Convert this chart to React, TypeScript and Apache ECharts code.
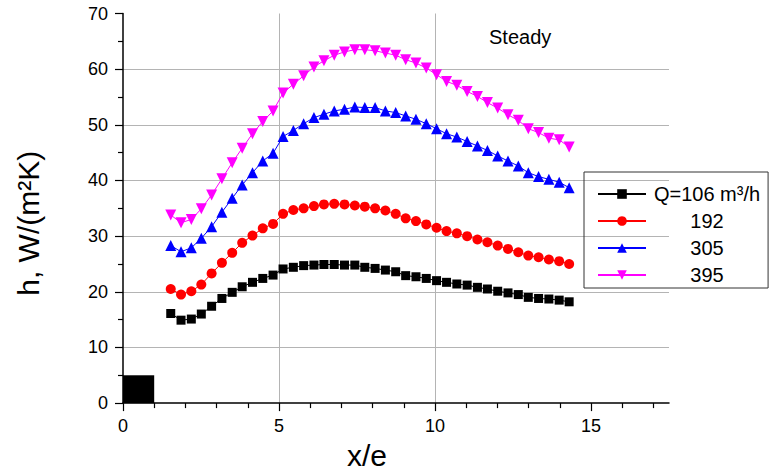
import React, { useEffect, useRef } from "react";
import * as echarts from "echarts";

// x/e positions of the measured points
const xOverE = [
  1.53, 1.86, 2.19, 2.51, 2.84, 3.17, 3.5, 3.82, 4.15, 4.48, 4.81, 5.13, 5.46, 5.79,
  6.12, 6.44, 6.77, 7.1, 7.43, 7.75, 8.08, 8.41, 8.74, 9.06, 9.39, 9.72, 10.05, 10.37,
  10.7, 11.03, 11.36, 11.68, 12.01, 12.34, 12.67, 12.99, 13.32, 13.65, 13.98, 14.3,
];

// h, W/(m2K) for each flow rate
const hQ106 = [
  16.1, 14.9, 15.1, 16.0, 17.4, 18.8, 19.9, 20.9, 21.7, 22.4, 23.0, 24.1, 24.4, 24.7,
  24.8, 24.9, 24.9, 24.8, 24.8, 24.4, 24.2, 23.9, 23.6, 22.9, 22.7, 22.4, 22.0, 21.7,
  21.4, 21.2, 20.8, 20.5, 20.1, 19.8, 19.5, 19.0, 18.8, 18.7, 18.5, 18.2,
];
const hQ192 = [
  20.5, 19.5, 20.1, 21.3, 23.3, 25.2, 27.0, 28.8, 30.1, 31.4, 32.2, 34.0, 34.7, 35.0,
  35.4, 35.7, 35.8, 35.7, 35.5, 35.3, 35.0, 34.6, 34.0, 33.2, 32.7, 32.1, 31.5, 30.9,
  30.5, 30.0, 29.4, 28.9, 28.3, 27.7, 27.1, 26.5, 26.2, 25.8, 25.5, 25.0,
];
const hQ305 = [
  28.3, 27.2, 27.9, 29.6, 31.7, 34.3, 36.8, 39.2, 41.4, 43.5, 44.9, 47.9, 49.0, 50.2,
  51.3, 51.9, 52.5, 52.8, 53.2, 53.1, 53.1, 52.5, 52.2, 51.6, 51.0, 50.2, 49.3, 48.4,
  47.8, 47.0, 46.2, 45.4, 44.4, 43.5, 42.6, 41.4, 40.7, 40.2, 39.7, 38.7,
];
const hQ395 = [
  33.8, 32.4, 33.0, 34.9, 37.4, 40.3, 43.2, 45.8, 48.4, 50.6, 52.5, 55.7, 57.3, 58.8,
  60.4, 61.5, 62.5, 63.1, 63.5, 63.5, 63.3, 62.9, 62.5, 61.7, 61.1, 60.2, 59.0, 57.8,
  57.1, 56.0, 55.1, 54.0, 53.0, 51.8, 50.8, 49.3, 48.6, 47.6, 47.3, 46.0,
];

const seriesNames = ["Q=106 m³/h", "192", "305", "395"];
const xTickValues = [0, 5, 10, 15];
// the rib drawn at the origin: x from 0 to 1, height 5
const ribBox = { x0: 0, x1: 1, y0: 0, y1: 5 };

export default function App() {
  const ref = useRef<HTMLDivElement>(null);

  useEffect(() => {
    document.body.style.margin = "0";
    const chart = echarts.init(ref.current as HTMLDivElement, null, { renderer: "svg" });
    const font = "Arial, 'Liberation Sans', sans-serif";
    const pair = (ys: number[]) => xOverE.map((x, i) => [x, ys[i]]);
    const axisColor = "#000";
    const gridColor = "#b4b4b4";

    chart.setOption({
      animation: false,
      backgroundColor: "#fff",
      grid: { left: 123, top: 13.5, width: 546, height: 400 },
      graphic: [
        {
          type: "text",
          x: 489,
          y: 37,
          style: {
            text: "Steady",
            fontSize: 20,
            fontFamily: font,
            fill: "#000",
            verticalAlign: "middle",
          },
        },
      ],
      legend: {
        orient: "vertical",
        left: 584,
        top: 172,
        padding: [12, 8, 3, 13],
        itemWidth: 48,
        itemHeight: 12,
        itemGap: 7,
        borderColor: "#333",
        borderWidth: 1,
        data: seriesNames,
        formatter: (name: string) => `{c|${name}}`,
        textStyle: {
          fontSize: 20,
          fontFamily: font,
          color: "#000",
          rich: { c: { width: 112, align: "center", fontSize: 20, fontFamily: font, color: "#000" } },
        },
      },
      xAxis: {
        type: "value",
        min: 0,
        max: 17.5,
        interval: 5,
        name: "x/e",
        nameLocation: "middle",
        nameGap: 30,
        nameTextStyle: { fontSize: 30, fontFamily: font, color: "#000", padding: [0, 58, 0, 0] },
        axisLine: { show: true, onZero: false, lineStyle: { color: axisColor, width: 1.5 } },
        axisTick: { show: true, length: 8, customValues: xTickValues, lineStyle: { color: axisColor, width: 1.2 } },
        minorTick: { show: true, splitNumber: 5, length: 5, lineStyle: { color: axisColor, width: 1.2 } },
        axisLabel: { fontSize: 18, fontFamily: font, color: "#000", margin: 14, customValues: xTickValues },
        splitLine: { show: true, showMinLine: false, showMaxLine: false, lineStyle: { color: gridColor, width: 1 } },
      },
      yAxis: {
        type: "value",
        min: 0,
        max: 70,
        interval: 10,
        name: "h, W/(m²K)",
        nameLocation: "middle",
        nameRotate: 90,
        nameGap: 80,
        nameTextStyle: { fontSize: 30, fontFamily: font, color: "#000", padding: [0, 30, 0, 0] },
        axisLine: { show: true, onZero: false, lineStyle: { color: axisColor, width: 1.5 } },
        axisTick: { show: true, length: 8, lineStyle: { color: axisColor, width: 1.2 } },
        minorTick: { show: true, splitNumber: 2, length: 5, lineStyle: { color: axisColor, width: 1.2 } },
        axisLabel: { fontSize: 18, fontFamily: font, color: "#000", margin: 15 },
        splitLine: { show: true, showMinLine: false, showMaxLine: false, lineStyle: { color: gridColor, width: 1 } },
      },
      series: [
        {
          name: seriesNames[0],
          type: "line",
          data: pair(hQ106),
          symbol: "rect",
          symbolSize: 9,
          itemStyle: { color: "#000000" },
          lineStyle: { color: "#000000", width: 1 },
          markArea: {
            silent: true,
            itemStyle: { color: "#000", opacity: 1, borderWidth: 0 },
            data: [[{ coord: [ribBox.x0, ribBox.y0] }, { coord: [ribBox.x1, ribBox.y1] }]],
          },
        },
        {
          name: seriesNames[1],
          type: "line",
          data: pair(hQ192),
          symbol: "circle",
          symbolSize: 10,
          itemStyle: { color: "#ff0000" },
          lineStyle: { color: "#ff0000", width: 1 },
        },
        {
          name: seriesNames[2],
          type: "line",
          data: pair(hQ305),
          symbol: "triangle",
          symbolSize: 11,
          itemStyle: { color: "#0000ff" },
          lineStyle: { color: "#0000ff", width: 1 },
        },
        {
          name: seriesNames[3],
          type: "line",
          data: pair(hQ395),
          symbol: "triangle",
          symbolRotate: 180,
          symbolSize: 11,
          itemStyle: { color: "#ff00ff" },
          lineStyle: { color: "#ff00ff", width: 1 },
        },
      ],
    });

    return () => chart.dispose();
  }, []);

  return <div ref={ref} style={{ width: 770, height: 475 }} />;
}
